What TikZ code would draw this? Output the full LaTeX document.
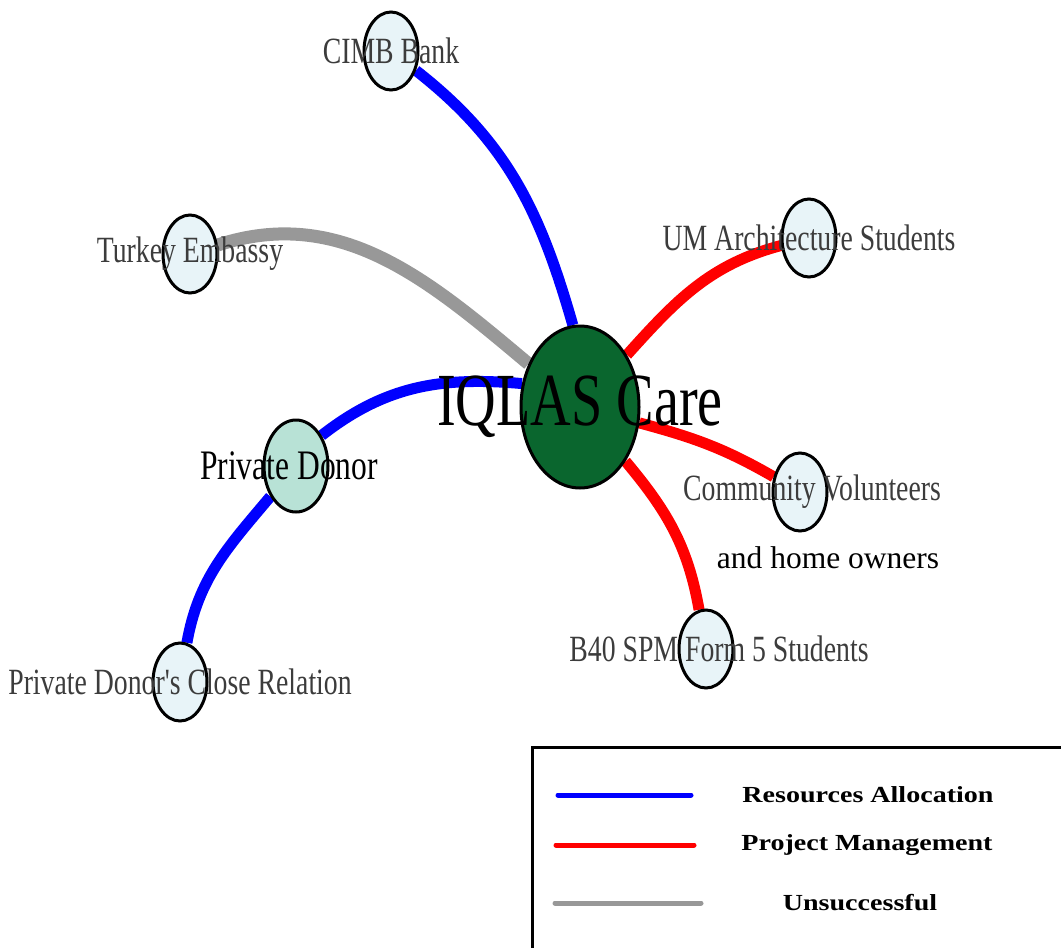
\documentclass[tikz,border=0pt]{standalone}
\usepackage{fontspec}
\setmainfont{Liberation Serif}
\newfontfamily\narrowfont[FakeStretch=0.75]{Liberation Serif}
\newfontfamily\widefont[FakeStretch=1.22]{Liberation Serif}
\usepackage{tikz}
\usetikzlibrary{shapes.geometric,backgrounds}
\definecolor{leaffill}{RGB}{232,244,248}
\definecolor{donorfill}{RGB}{184,226,214}
\definecolor{carefill}{RGB}{10,102,46}
\definecolor{labelgray}{RGB}{60,60,60}
\definecolor{linkgray}{RGB}{152,152,152}
\tikzstyle{leaf} = [ellipse, draw, line width=3pt, fill=leaffill, minimum width=54pt, minimum height=78pt, inner sep=0pt]
\tikzstyle{donor} = [leaf, fill=donorfill, minimum width=64pt, minimum height=92pt]
\tikzstyle{hub} = [ellipse, draw, line width=3pt, fill=carefill, minimum width=118pt, minimum height=162pt, inner sep=0pt]
\tikzstyle{leaftext} = [text=labelgray, inner sep=0pt, font=\narrowfont\fontsize{37}{40}\selectfont]
\tikzstyle{hubtext} = [text=black, inner sep=0pt, font=\narrowfont\fontsize{75}{80}\selectfont]
\tikzstyle{legendtext} = [text=black, inner sep=0pt, font=\widefont\bfseries\fontsize{23}{26}\selectfont]
\tikzstyle{resline} = [draw=blue, line width=11pt]
\tikzstyle{projline} = [draw=red, line width=11pt]
\tikzstyle{failline} = [draw=linkgray, line width=13pt]

\begin{document}
\begin{tikzpicture}
  \useasboundingbox (0pt,0pt) rectangle (1061pt,-948pt);
  % actors
  \draw (580.0pt,-407.0pt)node[hub,label={[hubtext]center:IQLAS Care}](care){};
  \draw (391.0pt,-51.0pt)node[leaf,label={[leaftext]center:CIMB Bank}](cimb){};
  \draw (190.0pt,-254.0pt)node[leaf,label={[leaftext]center:Turkey Embassy}](turkey){};
  \draw (809.0pt,-238.0pt)node[leaf,label={[leaftext]center:UM Architecture Students}](umarch){};
  \draw (296.0pt,-466.0pt)node[donor,label={[leaftext,xshift=-7pt,font=\narrowfont\fontsize{42}{44}\selectfont,text=black]center:Private Donor}](donor){};
  \draw (800.0pt,-492.0pt)node[leaf,label={[leaftext,xshift=12pt]center:Community Volunteers}](community){};
  \draw (706.0pt,-649.0pt)node[leaf,label={[leaftext,xshift=13pt]center:B40 SPM Form 5 Students}](bforty){};
  \draw (180.0pt,-682.0pt)node[leaf,label={[leaftext]center:Private Donor's Close Relation}](relation){};
  \draw (828.0pt,-558.0pt)node[inner sep=0pt,font=\fontsize{31.5}{34}\selectfont](homeowners){and home owners};
  % links
  \begin{pgfonlayer}{background}
    \path[resline] (cimb) edge[out=-38,in=106] (care.95);
    \path[failline] (turkey) edge[out=18,in=140] (care);
    \path[projline] (umarch) edge[out=195,in=48] (care);
    \path[resline] (donor.50) edge[out=38,in=175] (care.158);
    \path[resline] (donor) edge[out=-130,in=80] (relation);
    \path[projline] (care) edge[out=-15,in=150] (community);
    \path[projline] (care) edge[out=-50,in=100] (bforty);
  \end{pgfonlayer}
  % legend
  \draw[line width=3pt] (532.0pt,-970.0pt) -- (532.0pt,-747.0pt) -- (1080.0pt,-747.0pt);
  \coordinate (resa) at (558.0pt,-795.0pt);
  \coordinate (resb) at (691.0pt,-795.0pt);
  \coordinate (proja) at (556.0pt,-845.0pt);
  \coordinate (projb) at (694.0pt,-845.0pt);
  \coordinate (faila) at (555.0pt,-903.0pt);
  \coordinate (failb) at (701.0pt,-903.0pt);
  \draw[resline, line width=5pt, line cap=round] (resa) -- (resb);
  \draw[projline, line width=5pt, line cap=round] (proja) -- (projb);
  \draw[failline, line width=5pt, line cap=round] (faila) -- (failb);
  \draw (868.0pt,-795.0pt)node[legendtext](restext){Resources Allocation};
  \draw (867.0pt,-845.0pt)node[legendtext](projtext){Project Management};
  \draw (860.0pt,-903.0pt)node[legendtext](failtext){Unsuccessful};
\end{tikzpicture}
\end{document}
